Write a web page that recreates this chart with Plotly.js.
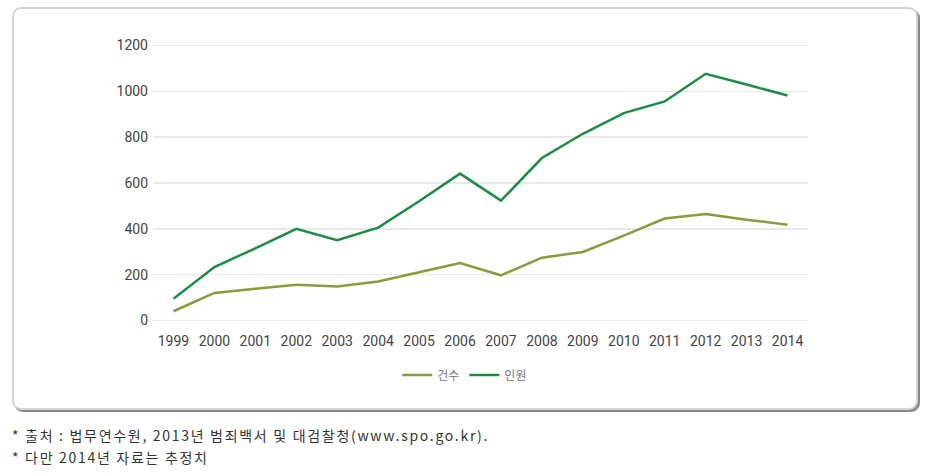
<!DOCTYPE html>
<html>
<head>
<meta charset="utf-8">
<script src="https://cdn.plot.ly/plotly-3.0.1.min.js"></script>
<style>
  html, body { margin: 0; padding: 0; background: #fff; }
  #wrap { position: relative; width: 932px; height: 475px; overflow: hidden; }
  #frame { position: absolute; left: 12px; top: 7px; width: 902px; height: 399px;
           border: 2px solid #d4d4d4; border-radius: 9px;
           box-shadow: 2px 2px 0 #8a8a8a; background: #fff; }
  #chart { position: absolute; left: 0; top: 0; width: 932px; height: 475px; }
  .note { position: absolute; left: 12px; font-family: "Noto Sans CJK KR", sans-serif;
          font-size: 14px; letter-spacing: 1.7px; color: #333; white-space: nowrap; }
</style>
</head>
<body>
<div id="wrap">
  <div id="frame"></div>
  <div id="chart"></div>
  <div class="note" style="top:425px;">* 출처 : 법무연수원, 2013년 범죄백서 및 대검찰청(www.spo.go.kr).</div>
  <div class="note" style="top:447px;">* 다만 2014년 자료는 추정치</div>
</div>
<script>
const years = ["1999","2000","2001","2002","2003","2004","2005","2006","2007","2008","2009","2010","2011","2012","2013","2014"];
const cases = [40, 120, 138, 156, 148, 170, 210, 251, 197, 274, 299, 370, 445, 465, 440, 418];
const persons = [95, 233, 315, 400, 350, 405, 520, 641, 523, 709, 815, 905, 956, 1077, 1030, 982];
const seriesNames = ["건수", "인원"];

const traces = [
  { x: years, y: cases, name: seriesNames[0], type: "scatter", mode: "lines",
    line: { color: "#8c9a3a", width: 2.5 } },
  { x: years, y: persons, name: seriesNames[1], type: "scatter", mode: "lines",
    line: { color: "#1c8c44", width: 2.5 } }
];

const layout = {
  width: 932, height: 475,
  margin: { l: 153, r: 124, t: 41, b: 150 },
  paper_bgcolor: "rgba(0,0,0,0)",
  plot_bgcolor: "rgba(0,0,0,0)",
  showlegend: true,
  legend: { orientation: "h", x: 0.476, xanchor: "center", y: -0.176, yanchor: "middle",
            font: { family: "Noto Sans CJK KR, sans-serif", size: 12, color: "#777" },
            itemwidth: 30, tracegroupgap: 0 },
  xaxis: {
    type: "category",
    range: [-0.5, 15.5],
    showgrid: false, zeroline: false, showline: false,
    ticks: "", ticklabelstandoff: 6,
    tickfont: { family: "Liberation Sans Narrow, Roboto, sans-serif", size: 14, color: "#444" }
  },
  yaxis: {
    range: [-20, 1220],
    tickvals: [0, 200, 400, 600, 800, 1000, 1200],
    showgrid: true, gridcolor: "#e8e8e8", gridwidth: 1.5,
    zeroline: false, showline: false, ticks: "", ticklabelstandoff: 4,
    tickfont: { family: "Liberation Sans Narrow, Roboto, sans-serif", size: 14, color: "#444" }
  }
};

Plotly.newPlot("chart", traces, layout, { displayModeBar: false, staticPlot: true });
</script>
</body>
</html>
